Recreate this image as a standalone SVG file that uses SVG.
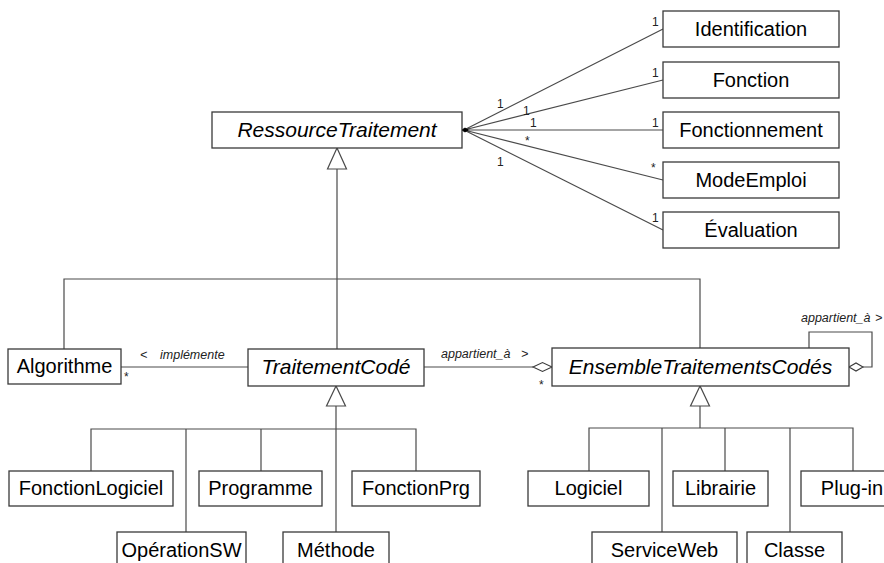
<svg xmlns="http://www.w3.org/2000/svg" width="884" height="563" viewBox="0 0 884 563">
<style>
  .box { fill: #ffffff; stroke: #3a3a3a; stroke-width: 1.3; }
  .lbl { font-family: "Liberation Sans", Arial, sans-serif; font-size: 20px; fill: #000; text-anchor: middle; }
  .abs { font-style: italic; font-size: 21px; }
  .ln { fill: none; stroke: #4a4a4a; stroke-width: 1.2; }
  .tri { fill: #ffffff; stroke: #4a4a4a; stroke-width: 1.2; }
  .dia { fill: #ffffff; stroke: #3a3a3a; stroke-width: 1.1; }
  .mult { font-family: "Liberation Sans", Arial, sans-serif; font-size: 12px; fill: #222; }
  .role { font-family: "Liberation Sans", Arial, sans-serif; font-size: 12.5px; font-style: italic; fill: #222; }
</style>
<rect width="884" height="563" fill="#ffffff"/>

<g id="connectors">
  <!-- associations from RessourceTraitement -->
  <path class="ln" d="M464 130 L663 29 M464 130 L663 80 M464 130 L663 130 M464 130 L663 180 M464 130 L663 230"/>
  <polygon points="462,130 465,128 468,130 465,132" fill="#000" stroke="#000" stroke-width="1"/>
  <!-- generalization to RessourceTraitement -->
  <path class="ln" d="M337 169 V279 M64 349 V279 H700 V348 M337 279 V349"/>
  <polygon class="tri" points="337,148 327.5,169 346.5,169"/>
  <!-- generalization to TraitementCodé -->
  <path class="ln" d="M336 406 V532 M91 471 V429 H416 V471 M186 429 V532 M261 429 V471"/>
  <polygon class="tri" points="336,386 326.5,406 345.5,406"/>
  <!-- generalization to EnsembleTraitementsCodés -->
  <path class="ln" d="M700 406 V428 M589 471 V428 H853 V471 M662 428 V532 M725 428 V471 M790 428 V532"/>
  <polygon class="tri" points="700,386 690.5,406 709.5,406"/>
  <!-- Algorithme - TraitementCodé -->
  <path class="ln" d="M121 367 H248"/>
  <!-- TraitementCodé - EnsembleTraitementsCodés -->
  <path class="ln" d="M424 367 H533"/>
  <polygon class="dia" points="533,367 542.5,362.5 552,367 542.5,371.5"/>
  <!-- self association -->
  <path class="ln" d="M809 348 V332 H872 V367 H863"/>
  <polygon class="dia" points="849,367 856,363 863,367 856,371"/>

  <!-- multiplicities -->
  <text class="mult" x="652" y="26">1</text>
  <text class="mult" x="652" y="77">1</text>
  <text class="mult" x="652" y="127">1</text>
  <text class="mult" x="651" y="172">*</text>
  <text class="mult" x="652" y="222">1</text>
  <text class="mult" x="497" y="108">1</text>
  <text class="mult" x="523" y="115">1</text>
  <text class="mult" x="530" y="127">1</text>
  <text class="mult" x="525" y="145">*</text>
  <text class="mult" x="497" y="166">1</text>
  <text class="mult" x="124" y="381">*</text>
  <text class="mult" x="539" y="389">*</text>
  <!-- role names -->
  <text class="role" x="140" y="359">&lt;</text>
  <text class="role" x="160" y="359">implémente</text>
  <text class="role" x="441" y="358">appartient_à</text>
  <text class="role" x="521" y="358">&gt;</text>
  <text class="role" x="801" y="322">appartient_à</text>
  <text class="role" x="875" y="322">&gt;</text>
</g>

<g id="RessourceTraitement"><rect class="box" x="212" y="112" width="250" height="36"/><text class="lbl abs" x="337" y="137">RessourceTraitement</text></g>
<g id="Identification"><rect class="box" x="663" y="11" width="176" height="36"/><text class="lbl" x="751" y="36">Identification</text></g>
<g id="Fonction"><rect class="box" x="663" y="62" width="176" height="36"/><text class="lbl" x="751" y="87">Fonction</text></g>
<g id="Fonctionnement"><rect class="box" x="663" y="112" width="176" height="36"/><text class="lbl" x="751" y="137">Fonctionnement</text></g>
<g id="ModeEmploi"><rect class="box" x="663" y="162" width="176" height="36"/><text class="lbl" x="751" y="187">ModeEmploi</text></g>
<g id="Evaluation"><rect class="box" x="663" y="212" width="176" height="36"/><text class="lbl" x="751" y="237">Évaluation</text></g>
<g id="Algorithme"><rect class="box" x="8" y="349" width="113" height="35"/><text class="lbl" x="64.5" y="373">Algorithme</text></g>
<g id="TraitementCode"><rect class="box" x="248" y="349" width="176" height="37"/><text class="lbl abs" x="336" y="374">TraitementCodé</text></g>
<g id="EnsembleTraitementsCodes"><rect class="box" x="552" y="348" width="297" height="38"/><text class="lbl abs" x="700.5" y="374">EnsembleTraitementsCodés</text></g>
<g id="FonctionLogiciel"><rect class="box" x="9" y="471" width="164" height="35"/><text class="lbl" x="91" y="495">FonctionLogiciel</text></g>
<g id="Programme"><rect class="box" x="199" y="471" width="123" height="35"/><text class="lbl" x="260.5" y="495">Programme</text></g>
<g id="FonctionPrg"><rect class="box" x="352" y="471" width="128" height="35"/><text class="lbl" x="416" y="495">FonctionPrg</text></g>
<g id="OperationSW"><rect class="box" x="117" y="532" width="129" height="40"/><text class="lbl" x="181.5" y="557">OpérationSW</text></g>
<g id="Methode"><rect class="box" x="283" y="532" width="106" height="40"/><text class="lbl" x="336" y="557">Méthode</text></g>
<g id="Logiciel"><rect class="box" x="528" y="471" width="121" height="35"/><text class="lbl" x="588.5" y="495">Logiciel</text></g>
<g id="Librairie"><rect class="box" x="673" y="471" width="95" height="35"/><text class="lbl" x="720.5" y="495">Librairie</text></g>
<g id="Plug-in"><rect class="box" x="801" y="471" width="110" height="35"/><text class="lbl" x="852" y="495">Plug-in</text></g>
<g id="ServiceWeb"><rect class="box" x="592" y="532" width="145" height="40"/><text class="lbl" x="664.5" y="557">ServiceWeb</text></g>
<g id="Classe"><rect class="box" x="747" y="532" width="95" height="40"/><text class="lbl" x="794.5" y="557">Classe</text></g>
</svg>
